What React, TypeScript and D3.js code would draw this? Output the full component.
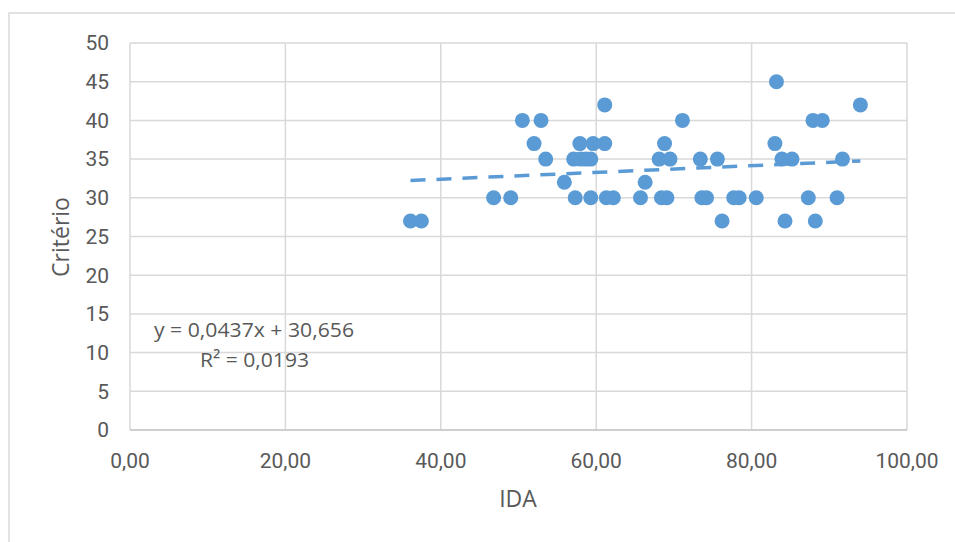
import React from "react";
import * as d3 from "d3";

const ida: number[] = [
  36.1, 37.5, 76.2, 84.3, 88.2,
  46.8, 49.0, 57.3, 59.3, 61.3, 62.2, 65.7, 68.4, 69.1, 73.6, 74.2, 77.7, 78.4, 80.6, 87.3, 91.0,
  55.9, 66.3,
  53.5, 57.1, 58.0, 58.7, 59.3, 68.1, 69.5, 73.4, 75.6, 83.9, 85.2, 91.7,
  52.0, 57.9, 59.6, 61.1, 68.8, 83.0,
  50.5, 52.9, 71.1, 87.9, 89.1,
  61.1, 94.0,
  83.2,
];
const criterio: number[] = [
  27, 27, 27, 27, 27,
  30, 30, 30, 30, 30, 30, 30, 30, 30, 30, 30, 30, 30, 30, 30, 30,
  32, 32,
  35, 35, 35, 35, 35, 35, 35, 35, 35, 35, 35, 35,
  37, 37, 37, 37, 37, 37,
  40, 40, 40, 40, 40,
  42, 42,
  45,
];
const xTicks: number[] = [0, 20, 40, 60, 80, 100];
const yTicks: number[] = [0, 5, 10, 15, 20, 25, 30, 35, 40, 45, 50];
const slope = 0.0437;
const intercept = 30.656;
const eqText = "y = 0,0437x + 30,656";
const r2Text = "R² = 0,0193";

const W = 955;
const H = 542;
const left = 130;
const right = 907;
const top = 43;
const bottom = 430;
const blue = "#5B9BD5";
const grid = "#d9d9d9";
const textCol = "#595959";
const tickFont = "'Roboto', sans-serif";

export default function App() {
  const x = d3.scaleLinear().domain([0, 100]).range([left, right]);
  const y = d3.scaleLinear().domain([0, 50]).range([bottom, top]);
  const fmt = (v: number) => v.toFixed(2).replace(".", ",");
  const xMin = d3.min(ida) as number;
  const xMax = d3.max(ida) as number;
  const line = d3
    .line<number>()
    .x((d) => x(d))
    .y((d) => y(slope * d + intercept));
  return (
    <svg
      width={W}
      height={H}
      style={{ position: "absolute", left: 0, top: 0, background: "#fff" }}
    >
      <rect x={9} y={13} width={1000} height={600} fill="#fff" stroke="#d9d9d9" strokeWidth={1.5} />
      {yTicks.map((t) => (
        <line key={"gy" + t} x1={left} x2={right} y1={y(t)} y2={y(t)} stroke={grid} strokeWidth={1.5} />
      ))}
      {xTicks.map((t) => (
        <line key={"gx" + t} x1={x(t)} x2={x(t)} y1={top} y2={bottom} stroke={grid} strokeWidth={1.5} />
      ))}
      <line x1={left} x2={right} y1={y(0)} y2={y(0)} stroke="#c8c8c8" strokeWidth={1.5} />
      {yTicks.map((t) => (
        <text
          key={"ty" + t}
          x={109}
          y={y(t)}
          dy="0.35em"
          textAnchor="end"
          fontFamily={tickFont}
          fontSize={21}
          fill={textCol}
        >
          {t}
        </text>
      ))}
      {xTicks.map((t) => (
        <text
          key={"tx" + t}
          x={x(t)}
          y={461}
          dy="0.35em"
          textAnchor="middle"
          fontFamily={tickFont}
          fontSize={21}
          fill={textCol}
        >
          {fmt(t)}
        </text>
      ))}
      <text
        x={518}
        y={499}
        dy="0.35em"
        textAnchor="middle"
        fontFamily="'Open Sans', sans-serif"
        fontSize={23}
        fill={textCol}
      >
        IDA
      </text>
      <text
        transform={`translate(61,237) rotate(-90)`}
        dy="0.35em"
        textAnchor="middle"
        fontFamily="'Open Sans', sans-serif"
        fontSize={23}
        fill={textCol}
      >
        Critério
      </text>
      {ida.map((v, i) => (
        <circle key={"p" + i} cx={x(v)} cy={y(criterio[i])} r={7.5} fill={blue} />
      ))}
      <path
        d={line([xMin, xMax]) || ""}
        fill="none"
        stroke={blue}
        strokeWidth={3.5}
        strokeDasharray="15 11"
      />
      <text
        x={154}
        y={337}
        fontFamily="'Open Sans', sans-serif"
        fontSize={20}
        textLength={200}
        lengthAdjust="spacingAndGlyphs"
        fill={textCol}
      >
        {eqText}
      </text>
      <text
        x={200}
        y={367}
        fontFamily="'Open Sans', sans-serif"
        fontSize={20}
        textLength={109}
        lengthAdjust="spacingAndGlyphs"
        fill={textCol}
      >
        {r2Text}
      </text>
    </svg>
  );
}
